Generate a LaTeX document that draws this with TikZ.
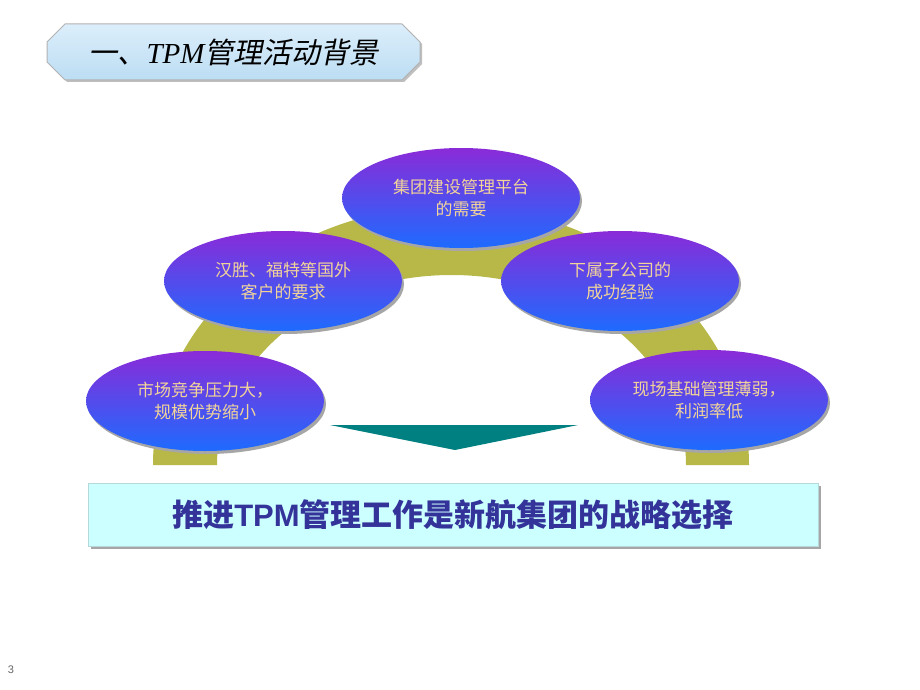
\documentclass[tikz,border=0pt]{standalone}
\usepackage{fontspec}
\setmainfont{Liberation Sans}
\newfontfamily\latinserif{Liberation Serif}
\newfontfamily\latinsans{Liberation Sans}
\newfontfamily\cjk{Noto Sans CJK SC}
\newfontfamily\cjkslant[FakeSlant=0.2]{Noto Sans CJK SC}
\usetikzlibrary{shapes.geometric,shapes.misc,shadows}
\definecolor{archolive}{HTML}{B8B848}
\definecolor{ballpurple}{HTML}{8A2BD8}
\definecolor{ballblue}{HTML}{1E6BFF}
\definecolor{balltext}{HTML}{F2D49A}
\definecolor{goalcyan}{HTML}{CCFFFF}
\definecolor{goalblue}{HTML}{333399}
\definecolor{arrowteal}{HTML}{008080}
\definecolor{titletop}{HTML}{DCEEFB}
\definecolor{titlebottom}{HTML}{BCDDF3}
\tikzset{
  causebox/.style={ellipse, minimum width=238pt, minimum height=100pt, inner sep=0pt,
    top color=ballpurple, bottom color=ballblue, text=balltext, align=center,
    font=\cjk\fontsize{17}{22}\selectfont,
    drop shadow={shadow xshift=2pt, shadow yshift=-3pt, fill=gray!70, opacity=1}},
  titlebox/.style={chamfered rectangle, chamfered rectangle xsep=9pt, chamfered rectangle ysep=9pt,
    minimum width=373pt, minimum height=56pt, inner sep=0pt, draw=gray!60, line width=1pt,
    top color=titletop, bottom color=titlebottom,
    drop shadow={shadow xshift=2pt, shadow yshift=-2pt, fill=gray!50, opacity=1}},
  goalbox/.style={rectangle, minimum width=730pt, minimum height=63pt, inner sep=0pt,
    fill=goalcyan, draw=goalcyan!70!gray, text=goalblue,
    drop shadow={shadow xshift=3pt, shadow yshift=-3pt, fill=gray!70, opacity=1}}
}
\begin{document}
\begin{tikzpicture}[x=1pt,y=-1pt]
\useasboundingbox[fill=white] (0,0) rectangle (920,690);
\fill[archolive] (153,465) arc[start angle=180, end angle=360, x radius=298, y radius=259]
  -- (686,465) arc[start angle=360, end angle=180, x radius=234.5, y radius=190] -- cycle;
\node[titlebox] (title) at (233.5,52)
  {\fontsize{29}{32}\selectfont\cjkslant 一、{\latinserif\itshape TPM}管理活动背景};
\node[causebox] (plat) at (461,198) {集团建设管理平台\\的需要};
\node[causebox] (cust) at (283,281) {汉胜、福特等国外\\客户的要求};
\node[causebox] (sub) at (620,281) {下属子公司的\\成功经验};
\node[causebox] (mkt) at (205,401) {市场竞争压力大，\\规模优势缩小};
\node[causebox] (site) at (709,400) {现场基础管理薄弱，\\利润率低};
\coordinate (tl) at (330,425);
\coordinate (tr) at (578,425);
\coordinate (tip) at (455,450);
\fill[arrowteal] (tl) -- (tr) -- (tip) -- cycle;
\node[goalbox] (goal) at (453,514.5)
  {\fontsize{31}{34}\selectfont\cjk\bfseries 推进{\latinsans\bfseries TPM}管理工作是新航集团的战略选择};
\node[text=gray!80!black, font=\fontsize{11}{13}\selectfont] (page) at (11,670) {3};
\end{tikzpicture}
\end{document}
